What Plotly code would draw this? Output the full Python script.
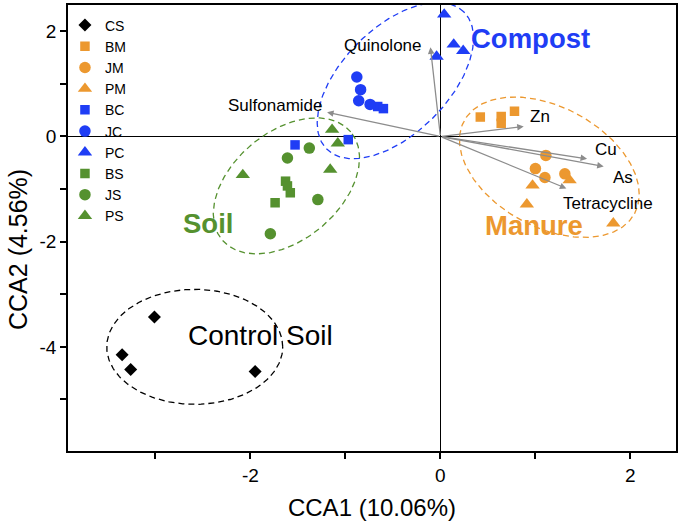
import numpy as np
import plotly.graph_objects as go

# ---------------- data ----------------
groups = ["CS", "BM", "JM", "PM", "BC", "JC", "PC", "BS", "JS", "PS"]
cs_x = [-3.01, -3.35, -3.26, -1.95]
cs_y = [-3.43, -4.15, -4.43, -4.47]
bm_x = [0.42, 0.64, 0.64, 0.78]
bm_y = [0.37, 0.38, 0.25, 0.48]
jm_x = [1.11, 1.00, 1.10, 1.31]
jm_y = [-0.36, -0.61, -0.78, -0.71]
pm_x = [0.97, 1.36, 0.91, 1.82]
pm_y = [-0.93, -0.83, -1.29, -1.65]
bc_x = [-1.53, -0.97, -0.66, -0.60]
bc_y = [-0.16, -0.06, 0.57, 0.53]
jc_x = [-0.88, -0.84, -0.86, -0.74]
jc_y = [1.13, 0.89, 0.68, 0.61]
pc_x = [0.04, 0.14, 0.24, -0.04]
pc_y = [2.32, 1.75, 1.63, 1.52]
bs_x = [-1.63, -1.61, -1.58, -1.74]
bs_y = [-0.85, -0.94, -1.07, -1.26]
js_x = [-1.38, -1.61, -1.29, -1.79]
js_y = [-0.22, -0.41, -1.20, -1.85]
ps_x = [-1.14, -1.08, -1.16, -2.08]
ps_y = [0.13, -0.13, -0.63, -0.73]

env_names = ["Quinolone", "Sulfonamide", "Zn", "Cu", "As", "Tetracycline"]
env_x = [-0.105, -1.193, 0.877, 1.544, 1.719, 1.326]
env_y = [1.695, 0.461, 0.19, -0.424, -0.569, -0.987]

x_ticks = [-2, 0, 2]
x_minor = [-3, -1, 1]
y_ticks = [2, 0, -2, -4]
y_minor = [1, -1, -3, -5]
x_title = "CCA1 (10.06%)"
y_title = "CCA2 (4.56%)"

# ---------------- styling ----------------
ORANGE = "#EC982F"
BLUE = "#1F3DF5"
GREEN = "#55912F"
BLACK = "#000000"
GRAY = "#8C8C8C"
FONT = "Liberation Sans, Arial, Helvetica, sans-serif"

W, H = 680, 526
ML, MR, MT, MB = 68, 4, 5, 75
XR = [-3.92, 2.48]
YR = [-5.98, 2.50]
PX_X = (W - ML - MR) / (XR[1] - XR[0])
PX_Y = (H - MT - MB) / (YR[1] - YR[0])

series = [
    ("CS", cs_x, cs_y, "diamond", BLACK, 10),
    ("BM", bm_x, bm_y, "square", ORANGE, 9.5),
    ("JM", jm_x, jm_y, "circle", ORANGE, 11.5),
    ("PM", pm_x, pm_y, "triangle-up", ORANGE, 12.5),
    ("BC", bc_x, bc_y, "square", BLUE, 9.5),
    ("JC", jc_x, jc_y, "circle", BLUE, 11.5),
    ("PC", pc_x, pc_y, "triangle-up", BLUE, 12.5),
    ("BS", bs_x, bs_y, "square", GREEN, 9.5),
    ("JS", js_x, js_y, "circle", GREEN, 11.5),
    ("PS", ps_x, ps_y, "triangle-up", GREEN, 12.5),
]

fig = go.Figure()

# ellipses (center in data units, semi-axes in screen px, rotation deg)
ellipses = [
    (-2.586, -4.00, 88, 57.5, 0, BLACK),
    (-1.621, -0.939, 84, 54, 40, GREEN),
    (-0.474, 1.063, 97, 53, 45, BLUE),
    (1.147, -0.584, 97, 60, -28.6, ORANGE),
]
t = np.linspace(0, 2 * np.pi, 240)
for cx, cy, a, b, ang, col in ellipses:
    th = np.deg2rad(ang)
    dx = a * np.cos(t) * np.cos(th) - b * np.sin(t) * np.sin(th)
    dy = a * np.cos(t) * np.sin(th) + b * np.sin(t) * np.cos(th)
    fig.add_trace(go.Scatter(x=cx + dx / PX_X, y=cy + dy / PX_Y, mode="lines",
                             line=dict(color=col, width=1.3, dash="6px,4px"),
                             hoverinfo="skip", showlegend=False))

for name, xs, ys, sym, col, sz in series:
    fig.add_trace(go.Scatter(x=xs, y=ys, mode="markers", name=name,
                             marker=dict(symbol=sym, color=col, size=sz,
                                         line=dict(width=0))))

annotations = []
for n, ex, ey in zip(env_names, env_x, env_y):
    annotations.append(dict(x=ex, y=ey, ax=0, ay=0, xref="x", yref="y",
                            axref="x", ayref="y", text="", showarrow=True,
                            arrowhead=2, arrowsize=1.0, arrowwidth=1.3,
                            arrowcolor=GRAY, standoff=0, startstandoff=0))

label_pos = {
    "Quinolone": (-0.17, 1.727, "right"),
    "Sulfonamide": (-1.22, 0.59, "right"),
    "Zn": (0.92, 0.38, "left"),
    "Cu": (1.61, -0.25, "left"),
    "As": (1.80, -0.78, "left"),
    "Tetracycline": (1.27, -1.266, "left"),
}
for n in env_names:
    lx, ly, anc = label_pos[n]
    annotations.append(dict(x=lx, y=ly, xref="x", yref="y", text=n,
                            showarrow=False, xanchor=anc, yanchor="middle",
                            font=dict(family=FONT, size=17, color=BLACK)))

group_labels = [
    ("Compost", 0.30, 1.854, "left", BLUE, True),
    ("Manure", 0.45, -1.689, "left", ORANGE, True),
    ("Soil", -2.158, -1.657, "right", GREEN, True),
    ("Control Soil", -2.68, -3.776, "left", BLACK, False),
]
for txt, gx, gy, anc, col, bold in group_labels:
    annotations.append(dict(x=gx, y=gy, xref="x", yref="y",
                            text=f"<b>{txt}</b>" if bold else txt,
                            showarrow=False, xanchor=anc, yanchor="middle",
                            font=dict(family=FONT, size=27.5 if bold else 28,
                                      color=col)))

# y-axis title placed as rotated text (centred slightly below the axis middle, as in the source)
annotations.append(dict(x=(18 - ML) / (W - ML - MR), y=(H - MB - 250) / (H - MT - MB),
                        xref="paper", yref="paper", text=y_title, textangle=-90,
                        showarrow=False, xanchor="center", yanchor="middle",
                        font=dict(family=FONT, size=25, color=BLACK)))

axis_common = dict(showgrid=False, showline=True, linecolor=BLACK, linewidth=1.5,
                   mirror=True, ticks="outside", ticklen=6, tickwidth=1.5,
                   tickcolor=BLACK, zeroline=True, zerolinecolor=BLACK,
                   zerolinewidth=1.3, automargin=False,
                   tickfont=dict(family=FONT, size=19, color=BLACK))

fig.update_layout(
    width=W, height=H,
    margin=dict(l=ML, r=MR, t=MT, b=MB),
    plot_bgcolor="white", paper_bgcolor="white",
    showlegend=True,
    legend=dict(x=-0.005, y=0.99, xanchor="left", yanchor="top",
                bgcolor="rgba(0,0,0,0)", borderwidth=0,
                font=dict(family=FONT, size=14, color=BLACK),
                tracegroupgap=0),
    xaxis=dict(range=XR, tickmode="array", tickvals=x_ticks,
               ticktext=[str(v) for v in x_ticks],
               minor=dict(tickmode="array", tickvals=x_minor, ticks="outside",
                          ticklen=6, tickwidth=1.5, tickcolor=BLACK),
               title=dict(text=x_title, font=dict(family=FONT, size=24, color=BLACK)),
               **axis_common),
    yaxis=dict(range=YR, tickmode="array", tickvals=y_ticks,
               ticktext=[str(v) for v in y_ticks],
               minor=dict(tickmode="array", tickvals=y_minor, ticks="outside",
                          ticklen=6, tickwidth=1.5, tickcolor=BLACK),
               **axis_common),
    annotations=annotations,
)

fig.write_html("out.html", config={"displayModeBar": False},
               post_script="document.body.style.margin='0px';")
